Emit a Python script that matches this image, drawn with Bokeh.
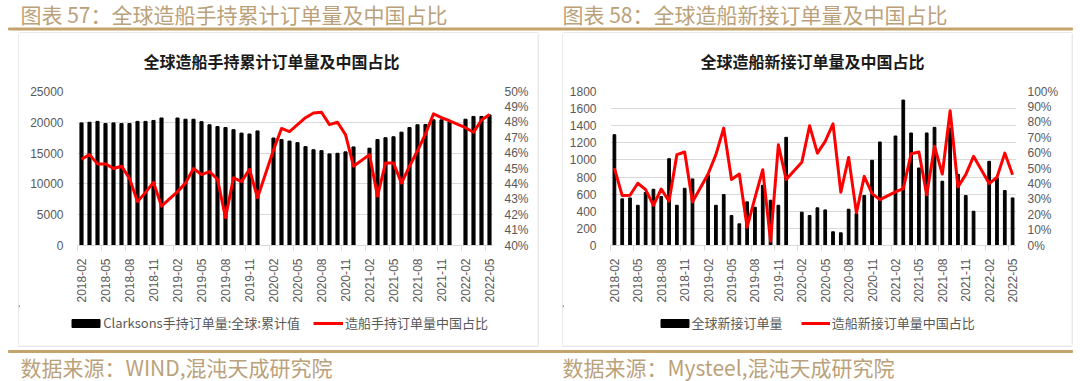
import math
from bokeh.plotting import figure
from bokeh.models import (Range1d, LinearAxis, FixedTicker, Legend, LegendItem,
                          PrintfTickFormatter, ColumnDataSource)
from bokeh.core.properties import value
from bokeh.layouts import row, column
from bokeh.embed import file_html
from bokeh.resources import INLINE

months = ["2018-02", "2018-03", "2018-04", "2018-05", "2018-06", "2018-07", "2018-08", "2018-09",
          "2018-10", "2018-11", "2018-12", "2019-01", "2019-02", "2019-03", "2019-04", "2019-05",
          "2019-06", "2019-07", "2019-08", "2019-09", "2019-10", "2019-11", "2019-12", "2020-01",
          "2020-02", "2020-03", "2020-04", "2020-05", "2020-06", "2020-07", "2020-08", "2020-09",
          "2020-10", "2020-11", "2020-12", "2021-01", "2021-02", "2021-03", "2021-04", "2021-05",
          "2021-06", "2021-07", "2021-08", "2021-09", "2021-10", "2021-11", "2021-12", "2022-01",
          "2022-02", "2022-03", "2022-04", "2022-05"]

# chart 57: Clarksons order book (left axis) and China share in % (right axis)
hold_orders = [19900, 20000, 20150, 19800, 19900, 19800, 19800, 20150, 20150, 20300, 20700, None,
               20700, 20500, 20500, 20100, 19600, 19300, 19150, 18800, 18250, 18100, 18600, None,
               17450, 17200, 16950, 16700, 16050, 15550, 15400, 14870, 14970, 15200, 16000, None,
               15800, 17200, 17500, 17650, 18400, 19150, 19600, 19650, 20400, 20400, 20050, None,
               20500, 20950, 20950, 21200]
hold_china_pct = [45.6, 45.9, 45.3, 45.3, 45.0, 45.15, 44.35, 42.85, 43.45, 44.1, 42.55, None,
                  43.5, 44.05, 45.0, 44.6, 44.8, 44.3, 41.8, 44.4, 44.15, 44.95, 43.1, None,
                  46.2, 47.6, 47.4, 47.85, 48.3, 48.6, 48.65, 47.85, 48.0, 47.2, 45.15, None,
                  45.9, 43.2, 45.35, 45.35, 44.05, 45.15, 46.15, 47.25, 48.55, 48.3, 48.1, None,
                  47.65, 47.35, 48.15, 48.5]

# chart 58: global new orders (left axis) and China share in % (right axis)
new_orders = [1295, 545, 556, 470, 620, 657, 572, 1015, 470, 669, 778, None,
              825, 470, 595, 350, 253, 510, 447, 704, 529, 470, 1264, None,
              390, 350, 440, 416, 160, 148, 424, 373, 584, 996, 1210, None,
              1280, 1700, 1315, 906, 1315, 1381, 751, 1372, 832, 584, 400, None,
              984, 790, 642, 556]
new_china_pct = [50.3, 32.4, 32.6, 40.4, 36.3, 26.1, 36.7, 28.7, 59.0, 60.7, 28.3, None,
                 46.4, 59.0, 76.2, 42.8, 46.4, 11.9, 30.9, 49.2, 2.8, 65.4, 42.8, None,
                 54.0, 77.8, 60.0, 67.6, 79.0, 34.6, 57.2, 21.2, 44.9, 33.7, 29.8, None,
                 34.8, 36.9, 59.6, 60.7, 33.0, 64.4, 46.4, 87.5, 38.0, 46.0, 57.9, None,
                 40.2, 44.3, 60.0, 46.0]

left_ticks = [0, 5000, 10000, 15000, 20000, 25000]
left_pct_ticks = [40, 41, 42, 43, 44, 45, 46, 47, 48, 49, 50]
right_ticks = [0, 200, 400, 600, 800, 1000, 1200, 1400, 1600, 1800]
right_pct_ticks = [0, 10, 20, 30, 40, 50, 60, 70, 80, 90, 100]

fig_titles = ["图表 57：全球造船手持累计订单量及中国占比", "图表 58：全球造船新接订单量及中国占比"]
inner_titles = ["全球造船手持累计订单量及中国占比", "全球造船新接订单量及中国占比"]
legend_left = ["Clarksons手持订单量:全球:累计值", "造船手持订单量中国占比"]
legend_right = ["全球新接订单量", "造船新接订单量中国占比"]
sources = ["数据来源：WIND,混沌天成研究院", "数据来源：Mysteel,混沌天成研究院"]

GOLD = "#c2a46c"
GOLD_TXT = "#bba17a"
GRID = "#d9d9d9"
BOX = "#d4d4d4"
AX_TXT = "#595959"
CJK = "Noto Sans CJK SC"
LAT = "Liberation Sans"


def deco(w, h):
    p = figure(width=w, height=h, x_range=Range1d(0, w), y_range=Range1d(h, 0),
               x_axis_type=None, y_axis_type=None, min_border=0, min_border_left=0,
               min_border_right=0, min_border_top=0, min_border_bottom=0,
               toolbar_location=None, output_backend="svg",
               background_fill_color="white", border_fill_color="white")
    p.outline_line_color = None
    p.grid.visible = False
    return p


def chart(w, h, ml, fw, mt, fh, yvals, pvals, yr, pr, yticks, pticks, bar_w):
    p = figure(width=w, height=h, output_backend="svg", toolbar_location=None,
               x_range=Range1d(-0.5, len(months) - 0.5), y_range=Range1d(*yr),
               min_border_left=ml, min_border_right=w - ml - fw, min_border_top=mt,
               min_border_bottom=h - mt - fh, background_fill_color="white",
               border_fill_color="white")
    p.outline_line_color = None
    p.extra_y_ranges = {"pct": Range1d(*pr)}

    idx = [i for i, v in enumerate(yvals) if v is not None]
    bsrc = ColumnDataSource(dict(x=idx, top=[yvals[i] for i in idx]))
    p.vbar(x="x", top="top", width=bar_w, source=bsrc, color="black")
    lidx = [i for i, v in enumerate(pvals) if v is not None]
    lsrc = ColumnDataSource(dict(x=lidx, y=[pvals[i] for i in lidx]))
    p.line(x="x", y="y", source=lsrc, y_range_name="pct", color="#ff0000",
           line_width=3, line_join="round")

    xa = p.xaxis[0]
    major = list(range(0, len(months), 3))
    xa.ticker = FixedTicker(ticks=major, minor_ticks=[m - 0.5 for m in major])
    xa.major_label_overrides = {m: months[m] for m in major}
    xa.major_label_orientation = math.pi / 2
    xa.axis_line_color = GRID
    xa.major_tick_line_color = None
    xa.major_tick_out = 0
    xa.major_tick_in = 0
    xa.minor_tick_line_color = GRID
    xa.minor_tick_in = 0
    xa.minor_tick_out = 5
    xa.major_label_standoff = 8
    xa.major_label_text_font = LAT
    xa.major_label_text_font_size = "12px"
    xa.major_label_text_color = AX_TXT

    ya = p.yaxis[0]
    ya.ticker = FixedTicker(ticks=yticks)
    ya.axis_line_color = None
    ya.major_tick_line_color = None
    ya.minor_tick_line_color = None
    ya.major_tick_out = 0
    ya.major_tick_in = 0
    ya.major_label_standoff = 14
    ya.major_label_text_font = LAT
    ya.major_label_text_font_size = "12px"
    ya.major_label_text_color = AX_TXT

    ra = LinearAxis(y_range_name="pct", ticker=FixedTicker(ticks=pticks),
                    formatter=PrintfTickFormatter(format="%d%%"))
    ra.axis_line_color = None
    ra.major_tick_line_color = None
    ra.minor_tick_line_color = None
    ra.major_tick_out = 0
    ra.major_tick_in = 0
    ra.major_label_standoff = 11
    ra.major_label_text_font = LAT
    ra.major_label_text_font_size = "12px"
    ra.major_label_text_color = AX_TXT
    p.add_layout(ra, "right")

    p.xgrid.visible = False
    p.ygrid.ticker = FixedTicker(ticks=yticks)
    p.ygrid.grid_line_color = GRID
    return p


def title_fig(w, text, cx):
    p = deco(w, 50)
    p.text(x=[cx], y=[27], text=[text], text_font=value(CJK), text_font_size=value("16px"),
           text_font_style="bold", text_color="#1a1a1a", text_baseline="middle",
           text_align="center")
    return p


def legend_fig(w, labels, x_box, x_line, line_w):
    p = deco(w, 40)
    r1 = p.vbar(x=[-1000], top=[1], width=1, color="black")
    r2 = p.line(x=[-1000, -999], y=[1, 1], color="#ff0000", line_width=3)
    common = dict(orientation="horizontal", glyph_height=10, label_height=14, padding=0,
                  margin=0, spacing=0, border_line_color=None, background_fill_alpha=0,
                  label_text_font=CJK, label_text_font_size="13px",
                  label_text_color=AX_TXT)
    p.add_layout(Legend(items=[LegendItem(label=labels[0], renderers=[r1])],
                        location=(x_box - 3.5, 13), glyph_width=35, label_standoff=0,
                        **common))
    p.add_layout(Legend(items=[LegendItem(label=labels[1], renderers=[r2])],
                        location=(x_line, 13), glyph_width=line_w, label_standoff=2,
                        **common))
    return p


# header: figure titles, gold rule, box tops
hdr = deco(1080, 33)
hdr.text(x=[20, 562], y=[13, 13], text=fig_titles, text_font=value(CJK),
         text_font_size=value("21px"), text_color=GOLD_TXT, text_baseline="middle",
         text_align="left")
hdr.quad(left=[8], right=[1072], top=[27.5], bottom=[29.5], color=GOLD)
hdr.segment(x0=[18, 562], x1=[538, 1072], y0=[32.5, 32.5], y1=[32.5, 32.5],
            line_color=BOX, line_width=1)

# box side edges
edge_l = deco(19, 312)
edge_l.segment(x0=[18.5], x1=[18.5], y0=[0], y1=[312], line_color=BOX, line_width=1)
mid = deco(26, 312)
mid.segment(x0=[0.5, 25.5], x1=[0.5, 25.5], y0=[0, 0], y1=[312, 312], line_color=BOX,
            line_width=1)
edge_r = deco(9, 312)
edge_r.segment(x0=[0.5], x1=[0.5], y0=[0], y1=[312], line_color=BOX, line_width=1)

# left box (page x 19..537)
c1 = chart(518, 222, 58, 416, 8, 155, hold_orders, hold_china_pct, (0, 25000), (40, 50),
           left_ticks, left_pct_ticks, 0.39)
box1 = column(title_fig(518, inner_titles[0], 271 - 19),
              row(c1),
              legend_fig(518, legend_left, 71.7 - 19, 313 - 19, 30))

# right box (page x 563..1071)
c2 = chart(508, 222, 47, 406, 8, 154, new_orders, new_china_pct, (0, 1800), (0, 100),
           right_ticks, right_pct_ticks, 0.35)
box2 = column(title_fig(508, inner_titles[1], 812 - 563),
              row(c2),
              legend_fig(508, legend_right, 660 - 563, 800.7 - 563, 29))

# footer: box bottoms, gold rule, sources
ftr = deco(1080, 36)
ftr.segment(x0=[18, 562], x1=[538, 1072], y0=[0.5, 0.5], y1=[0.5, 0.5],
            line_color=BOX, line_width=1)
ftr.quad(left=[8], right=[1072], top=[5], bottom=[7], color=GOLD)
ftr.text(x=[20, 562], y=[21, 21], text=sources, text_font=value(CJK),
         text_font_size=value("21px"), text_color=GOLD_TXT, text_baseline="middle",
         text_align="left")

layout = column(hdr, row(edge_l, box1, mid, box2, edge_r), ftr)
open("out.html", "w").write(file_html(layout, INLINE))
